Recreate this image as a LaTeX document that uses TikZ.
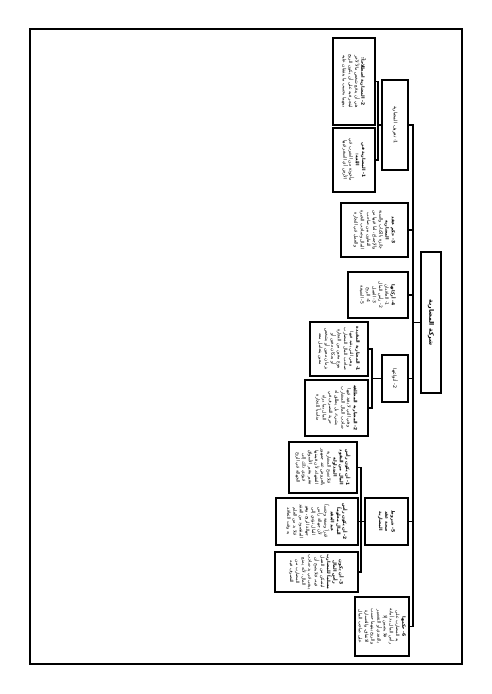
\documentclass[tikz,border=0pt]{standalone}
\usepackage{fontspec}
\newfontfamily\arabicfont[Script=Arabic]{DejaVu Sans}
\TeXXeTstate=1
\newcommand{\artxt}[1]{\beginR #1\endR}
\newcommand{\arb}[1]{\beginR\textbf{#1}\endR}
\tikzset{
  bx/.style={draw, line width=1.1pt, rotate=-90, align=center, inner sep=1pt,
    font=\arabicfont\fontsize{4.5}{6.2}\selectfont},
  ln/.style={line width=1.1pt}
}
\begin{document}
\begin{tikzpicture}[x=1pt,y=-1pt]
\useasboundingbox (0,0) rectangle (491,694);
\fill[white] (0,0) rectangle (491,694);
\draw[line width=1.1pt] (30,29) rectangle (462,664);

% root
\node[bx, minimum width=141pt, minimum height=20pt, font=\arabicfont\fontsize{6.2}{7}\selectfont] (R) at (431,322.5) {\arb{شركة المضاربة}};

% level 1
\node[bx, minimum width=90pt, minimum height=26pt, font=\arabicfont\fontsize{4.8}{6}\selectfont] (A) at (395,125) {\artxt{1- تعريف المضاربة}};
\node[bx, minimum width=54pt, minimum height=67pt] (B) at (374.5,230) {\arb{3- حكم عقد}\\ \arb{المضاربة}\\ \artxt{جائزة بالكتاب والسنة}\\ \artxt{والإجماع، لما فيها من}\\ \artxt{التعاون بين صاحب}\\ \artxt{المال وصاحب الخبرة}\\ \artxt{والعمل في التجارة}};
\node[bx, minimum width=46pt, minimum height=60pt] (C) at (378,295) {\arb{4- أركانها}\\ \artxt{1- العاقدان}\\ \artxt{2- رأس المال}\\ \artxt{3- العمل}\\ \artxt{4- الربح}\\ \artxt{5- الصيغة}};
\node[bx, minimum width=47pt, minimum height=26pt, font=\arabicfont\fontsize{4.8}{6}\selectfont] (D) at (395,378.5) {\artxt{2- أنواعها}};
\node[bx, minimum width=47pt, minimum height=43pt] (E) at (386.5,521.5) {\arb{5- شروط}\\ \arb{صحة عقد}\\ \arb{المضاربة}};
\node[bx, minimum width=59pt, minimum height=54pt] (F) at (382,626.5) {\arb{6- حكمها}\\ \artxt{يد المضارب على}\\ \artxt{رأس المال يد أمانة}\\ \artxt{فلا يضمن إلا}\\ \artxt{بالتعدي أو التقصير}\\ \artxt{والربح بينهما حسب}\\ \artxt{الاتفاق، والخسارة}\\ \artxt{على صاحب المال}};

% level 2
\node[bx, minimum width=87pt, minimum height=42pt] (A1) at (354,81.5) {\arb{2- المضاربة اصطلاحاً:}\\ \artxt{هي أن يدفع شخص مالاً لآخر}\\ \artxt{ليتجر فيه على أن يكون الربح}\\ \artxt{بينهما بحسب ما يتفقان عليه}};
\node[bx, minimum width=64pt, minimum height=42pt] (A2) at (354,160) {\arb{1- المضاربة في}\\ \arb{اللغة:}\\ \artxt{مأخوذة من الضرب في}\\ \artxt{الأرض أي السفر فيها}};
\node[bx, minimum width=54pt, minimum height=58pt] (D1) at (339,349) {\arb{1- المضاربة المقيدة}\\ \artxt{وهي التي يقيد فيها}\\ \artxt{صاحب المال المضارب}\\ \artxt{بنوع معين من التجارة}\\ \artxt{أو بمكان معين أو}\\ \artxt{بزمان معين أو بشخص}\\ \artxt{معين يتعامل معه}};
\node[bx, minimum width=56pt, minimum height=63pt] (D2) at (336.5,408) {\arb{2- المضاربة المطلقة}\\ \artxt{وهي التي لا يقيد فيها}\\ \artxt{صاحب المال المضارب}\\ \artxt{بشيء، بل يطلق له}\\ \artxt{حرية التصرف في}\\ \artxt{المال بما يراه}\\ \artxt{مناسباً للتجارة}};
\node[bx, minimum width=51pt, minimum height=68pt] (E1) at (323,467.5) {\arb{1- أن يكون رأس}\\ \arb{المال من النقود}\\ \arb{المتداولة}\\ \artxt{فلا تصح المضاربة}\\ \artxt{بالعروض عند جمهور}\\ \artxt{الفقهاء، لأن قيمتها}\\ \artxt{تتغير بتغير الأسواق}\\ \artxt{فيؤدي ذلك إلى}\\ \artxt{الجهالة في الربح}};
\node[bx, minimum width=47pt, minimum height=82pt] (E2) at (317,521.5) {\arb{2- أن يكون رأس}\\ \arb{المال معلوماً}\\ \arb{عند العقد}\\ \artxt{قدراً وصفة وجنساً}\\ \artxt{لأن جهالة رأس}\\ \artxt{المال تؤدي إلى}\\ \artxt{جهالة الربح، وهو}\\ \artxt{المقصود من العقد}\\ \artxt{فلا بد من العلم}\\ \artxt{به وقت التعاقد}};
\node[bx, minimum width=40pt, minimum height=83pt] (E3) at (316.5,572) {\arb{3- أن يكون}\\ \arb{رأس المال}\\ \arb{مسلماً للمضارب}\\ \artxt{ليتمكن من العمل}\\ \artxt{فيه، فلا يصح أن}\\ \artxt{يبقى في يد صاحب}\\ \artxt{المال، لأنه يمنع}\\ \artxt{المضارب من}\\ \artxt{التصرف فيه}};

% connectors
\coordinate (mainx) at (413,0);
\coordinate (busA) at (378,0);
\coordinate (busD) at (372,0);
\coordinate (busE) at (361,0);
\draw[ln] (A.north) -- (A.north -| mainx) -- (F.north -| mainx) -- (F.north);
\foreach \n in {B,C,D,E} \draw[ln] (\n.north) -- (\n.north -| mainx);
\draw[ln] (R.south) -- (R.south -| mainx);
\draw[ln] (A.south) -- (A.south -| busA);
\draw[ln] (A1.north) -- (A1.north -| busA) -- (A2.north -| busA) -- (A2.north);
\draw[ln] (D.south) -- (D.south -| busD);
\draw[ln] (D1.north) -- (D1.north -| busD) -- (D2.north -| busD) -- (D2.north);
\draw[ln] (E.south) -- (E.south -| busE);
\draw[ln] (E1.north) -- (E1.north -| busE) -- (E3.north -| busE) -- (E3.north);
\draw[ln] (E2.north) -- (E2.north -| busE);
\end{tikzpicture}
\end{document}
